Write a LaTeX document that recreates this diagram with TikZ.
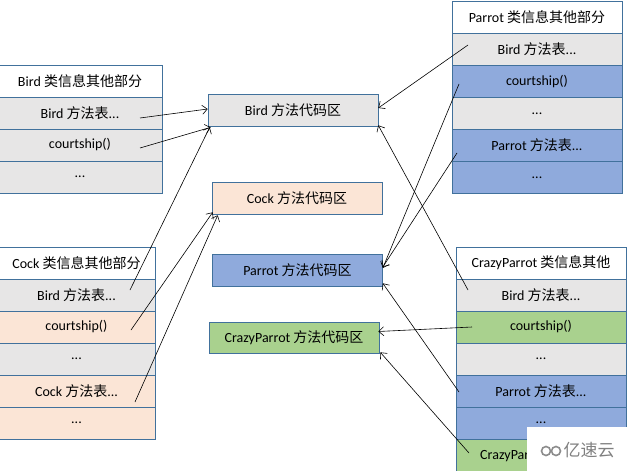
\documentclass[tikz,border=0pt]{standalone}
\usepackage{fontspec}
\setmainfont{Carlito}
\newfontfamily\cjk{Noto Sans CJK SC}
\usetikzlibrary{arrows.meta}
\newcommand{\zh}[1]{{\cjk #1}}
\definecolor{bordc}{HTML}{41719C}
\definecolor{cgray}{HTML}{E7E6E6}
\definecolor{cpeach}{HTML}{FBE5D6}
\definecolor{cblue}{HTML}{8FAADC}
\definecolor{cgreen}{HTML}{A9D18E}
\begin{document}
\begin{tikzpicture}[x=1pt,y=-1pt,
  cell/.style={draw=bordc, line width=0.6pt, minimum height=32pt, inner sep=0pt,
    font=\fontsize{14}{16}\selectfont, text=black},
  birdt/.style={cell, minimum width=164pt},
  cockt/.style={cell, minimum width=157pt},
  part/.style={cell, minimum width=170pt},
  code/.style={cell, minimum width=170pt},
  arr/.style={line width=0.6pt, -{Straight Barb[length=5pt,width=9pt]}}]
\useasboundingbox (0,0) rectangle (627,471);
\clip (0,0) rectangle (627,471);

% Bird class table
\node[birdt, fill=white] (b0) at (80,81) {Bird \zh{类信息其他部分}};
\node[birdt, fill=cgray] (b1) at (80,113) {Bird \zh{方法表}...};
\node[birdt, fill=cgray] (b2) at (80,145) {courtship()};
\node[birdt, fill=cgray] (b3) at (80,177) {...};

% Cock class table
\node[cockt, fill=white]  (c0) at (76.5,263) {Cock \zh{类信息其他部分}};
\node[cockt, fill=cgray]  (c1) at (76.5,295) {Bird \zh{方法表}...};
\node[cockt, fill=cpeach] (c2) at (76.5,327) {courtship()};
\node[cockt, fill=cgray]  (c3) at (76.5,359) {...};
\node[cockt, fill=cpeach] (c4) at (76.5,391) {Cock \zh{方法表}...};
\node[cockt, fill=cpeach] (c5) at (76.5,423) {...};

% Parrot class table
\node[part, fill=white] (p0) at (537,17.5) {Parrot \zh{类信息其他部分}};
\node[part, fill=cgray] (p1) at (537,49.5) {Bird \zh{方法表}...};
\node[part, fill=cblue] (p2) at (537,81.5) {courtship()};
\node[part, fill=cgray] (p3) at (537,113.5) {...};
\node[part, fill=cblue] (p4) at (537,145.5) {Parrot \zh{方法表}...};
\node[part, fill=cblue] (p5) at (537,177.5) {...};

% CrazyParrot class table
\node[part, fill=white]  (r0) at (541,263) {CrazyParrot \zh{类信息其他}};
\node[part, fill=cgray]  (r1) at (541,295) {Bird \zh{方法表}...};
\node[part, fill=cgreen] (r2) at (541,327) {courtship()};
\node[part, fill=cgray]  (r3) at (541,359) {...};
\node[part, fill=cblue]  (r4) at (541,391) {Parrot \zh{方法表}...};
\node[part, fill=cblue]  (r5) at (541,423) {...};
\node[part, fill=cgreen] (r6) at (541,455) {CrazyParrot \zh{方法表}...};

% method code areas
\node[code, fill=cgray]  (BirdM)   at (293,110)   {Bird \zh{方法代码区}};
\node[code, fill=cpeach] (CockM)   at (297,198)   {Cock \zh{方法代码区}};
\node[code, fill=cblue]  (ParrotM) at (297.5,270) {Parrot \zh{方法代码区}};
\node[code, fill=cgreen, minimum height=31pt] (CrazyM) at (294,337.5) {CrazyParrot \zh{方法代码区}};

% arrow start points
\coordinate (s1) at (140,118);
\coordinate (s2) at (140,148);
\coordinate (s3) at (130,290);
\coordinate (s4) at (131,330);
\coordinate (s5) at (135,402);
\coordinate (s6) at (468,45);
\coordinate (s7) at (459,84);
\coordinate (s8) at (457,153);
\coordinate (s9) at (468,290);
\coordinate (s10) at (472,327);
\coordinate (s11) at (459,392);
\coordinate (s12) at (469,453);

\draw[arr] (s1) -- ([yshift=1pt]BirdM.west);
\draw[arr] (s2) -- ([xshift=3pt,yshift=-1pt]BirdM.south west);
\draw[arr] (s3) -- ([xshift=2pt,yshift=-1pt]BirdM.south west);
\draw[arr] (s4) -- ([xshift=1pt,yshift=2pt]CockM.south west);
\draw[arr] (s5) -- ([xshift=6pt,yshift=-1pt]CockM.south west);
\draw[arr] (s6) -- ([yshift=2pt]BirdM.east);
\draw[arr] (s7) -- ([yshift=2pt]ParrotM.east);
\draw[arr] (s8) -- ([yshift=3pt]ParrotM.east);
\draw[arr] (s9) -- ([yshift=1pt]BirdM.south east);
\draw[arr] (s10) -- ([xshift=-1pt,yshift=6pt]CrazyM.east);
\draw[arr] (s11) -- ([yshift=3pt]ParrotM.south east);
\draw[arr] (s12) -- ([xshift=1pt,yshift=1pt]CrazyM.south east);

% watermark
\fill[white] (527,427) rectangle (627,471);
\draw[black!45, line width=1.6pt] (546,451) circle (4.5pt) (556,451) circle (4.5pt);
\node[text=black!50, font=\cjk\fontsize{17}{19}\selectfont, inner sep=0pt] (wm) at (589,450) {亿速云};
\end{tikzpicture}
\end{document}
